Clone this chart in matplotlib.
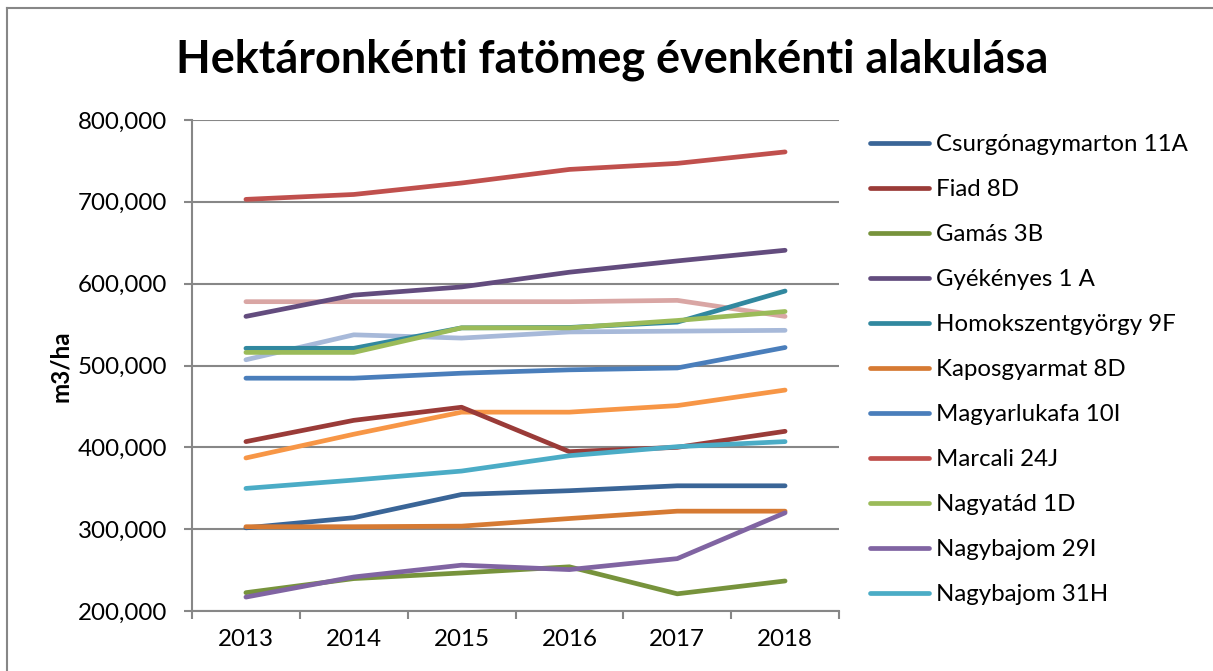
import matplotlib
matplotlib.use("Agg")
import matplotlib.pyplot as plt
from matplotlib.lines import Line2D

plt.rcParams["font.family"] = ["Lato", "DejaVu Sans"]

# ── Data (m3/ha) ─────────────────────────────────────────────────────────────
YEARS = ["2013", "2014", "2015", "2016", "2017", "2018"]

csurgonagymarton_11a = [301600, 314000, 342400, 347000, 353000, 353000]
fiad_8d              = [407000, 433000, 449000, 394700, 400000, 419600]
gamas_3b             = [222400, 239600, 246500, 254000, 221000, 236700]
gyekenyes_1a         = [560000, 586000, 596000, 614000, 627800, 640800]
homokszentgyorgy_9f  = [521000, 521000, 546000, 546500, 553000, 591000]
kaposgyarmat_8d      = [303000, 303000, 303700, 313000, 322000, 322000]
magyarlukafa_10i     = [484500, 484500, 490600, 494700, 497000, 522000]
marcali_24j          = [703000, 709000, 723000, 739600, 747000, 761000]
nagyatad_1d          = [516000, 516000, 546000, 546000, 555000, 566000]
nagybajom_29i        = [217000, 241600, 256000, 250600, 264000, 320000]
nagybajom_31h        = [349800, 360000, 371000, 389800, 400800, 407000]
# three more series are drawn but their legend entries are cut off
series_12            = [387000, 416000, 443000, 443000, 451000, 470000]
series_13            = [507000, 537500, 533500, 541000, 542000, 543000]
series_14            = [578000, 578000, 578000, 578000, 579600, 560000]

LABELS = ["Csurgónagymarton 11A", "Fiad 8D", "Gamás 3B", "Gyékényes 1 A",
          "Homokszentgyörgy 9F", "Kaposgyarmat 8D", "Magyarlukafa 10I",
          "Marcali 24J", "Nagyatád 1D", "Nagybajom 29I", "Nagybajom 31H"]
VALUES = [csurgonagymarton_11a, fiad_8d, gamas_3b, gyekenyes_1a,
          homokszentgyorgy_9f, kaposgyarmat_8d, magyarlukafa_10i,
          marcali_24j, nagyatad_1d, nagybajom_29i, nagybajom_31h]
EXTRA = [series_12, series_13, series_14]

COLORS = ["#3A6597", "#9A3B38", "#77933C", "#634C7E", "#31889F", "#D67A33",
          "#4A7EBB", "#C0504D", "#9BBB59", "#8064A2", "#4BACC6"]
EXTRA_COLORS = ["#F79646", "#A7B9D9", "#D9A6A4"]

GRID = "#878787"
LW = 3.4

fig = plt.figure(figsize=(12.13, 6.71), dpi=100)
ax = fig.add_axes([192 / 1213, 1 - 611 / 671, (839 - 192) / 1213, (611 - 120) / 671])

x = list(range(len(YEARS)))
# draw order roughly as in the reference
for vals, c in zip(EXTRA, EXTRA_COLORS):
    ax.plot(x, vals, color=c, lw=LW, solid_capstyle="round", solid_joinstyle="round", zorder=2)
for vals, c in zip(VALUES, COLORS):
    ax.plot(x, vals, color=c, lw=LW, solid_capstyle="round", solid_joinstyle="round", zorder=3)

ax.set_ylim(200000, 800000)
ax.set_yticks(range(200000, 800001, 100000))
ax.set_yticklabels([f"{v:,}" for v in range(200000, 800001, 100000)])
ax.yaxis.grid(True, color=GRID, lw=1.5)
ax.set_axisbelow(True)

ax.set_xlim(-0.5, len(YEARS) - 0.5)
ax.set_xticks([i - 0.5 for i in range(len(YEARS) + 1)])
ax.set_xticklabels([])
ax.set_xticks(x, minor=True)
ax.set_xticklabels(YEARS, minor=True)

ax.tick_params(axis="y", length=6, width=1.5, color=GRID, labelsize=17.4, pad=12)
ax.tick_params(axis="x", which="major", length=6, width=1.5, color=GRID)
ax.tick_params(axis="x", which="minor", length=0, labelsize=17.4, pad=13)

for s in ["top", "right"]:
    ax.spines[s].set_visible(False)
for s in ["left", "bottom"]:
    ax.spines[s].set_color(GRID)
    ax.spines[s].set_linewidth(1.5)

fig.text(60 / 1213, 1 - 366 / 671, "m3/ha", rotation=90, ha="center", va="center",
         fontsize=17.5, fontweight="bold")
fig.text(612 / 1213, 1 - 60 / 671, "Hektáronkénti fatömeg évenkénti alakulása",
         ha="center", va="center", fontsize=32.4, fontweight="bold")

handles = [Line2D([0], [0], color=c, lw=LW, solid_capstyle="round") for c in COLORS]
fig.legend(handles, LABELS, loc="upper left", bbox_to_anchor=(870 / 1213, 1 - 134 / 671),
           frameon=False, fontsize=17.3, handlelength=2.45, handletextpad=0.3,
           labelspacing=1.0, borderaxespad=0, borderpad=0)

# chart border (only left and top edges visible in the crop)
fig.add_artist(Line2D([7 / 1213, 7 / 1213], [0, 1 - 8 / 671], color=GRID, lw=1.5))
fig.add_artist(Line2D([7 / 1213, 1], [1 - 8 / 671, 1 - 8 / 671], color=GRID, lw=1.5))

fig.savefig("out.png", dpi=100)
